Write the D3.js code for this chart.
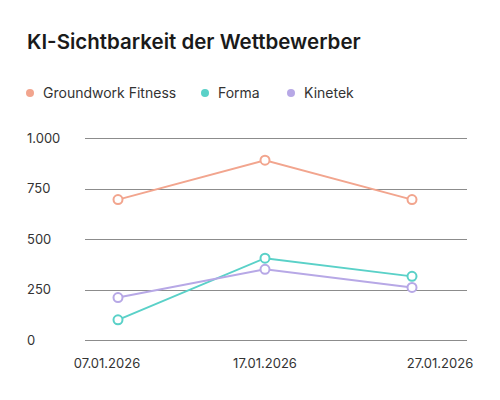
<!DOCTYPE html>
<html>
<head>
<meta charset="utf-8">
<script src="https://cdn.jsdelivr.net/npm/d3@7"></script>
<style>
  body { margin: 0; background: #fff; }
  text { font-family: "Inter", "Lato", sans-serif; }
</style>
</head>
<body>
<script>
// chart data
var dates = ["2026-01-07", "2026-01-17", "2026-01-27"];
var seriesNames = ["Groundwork Fitness", "Forma", "Kinetek"];
var groundwork = [695, 890, 695];
var forma = [100, 405, 315];
var kinetek = [210, 350, 260];
var yTicks = [0, 250, 500, 750, 1000];

var colors = ["#f2a58e", "#5ad1c8", "#b7a8e6"];
var parse = d3.timeParse("%Y-%m-%d");
var fmtDate = d3.timeFormat("%d.%m.%Y");
var de = d3.formatLocale({decimal: ",", thousands: ".", grouping: [3], currency: ["", " €"]});
var fmtNum = de.format(",");

var series = [groundwork, forma, kinetek].map(function(vals, i) {
    return {
        name: seriesNames[i],
        color: colors[i],
        values: vals.map(function(v, j) { return {date: parse(dates[j]), value: v}; })
    };
});

var width = 500, height = 400;
var svg = d3.select("body").append("svg")
    .attr("width", width)
    .attr("height", height);

svg.append("text")
    .attr("x", 27).attr("y", 49)
    .attr("font-size", 20.5).attr("font-weight", 600)
    .attr("fill", "#1a1a1a")
    .text("KI-Sichtbarkeit der Wettbewerber");

// legend
var legendX = [30, 205, 291];
var legend = svg.append("g").selectAll("g")
    .data(series).enter().append("g")
    .attr("transform", function(d, i) { return "translate(" + legendX[i] + ",93)"; });
legend.append("circle").attr("r", 4).attr("fill", function(d) { return d.color; });
legend.append("text")
    .attr("x", 13).attr("dy", "0.35em")
    .attr("font-size", 14).attr("fill", "#333")
    .text(function(d) { return d.name; });

var x = d3.scaleTime()
    .domain([parse(dates[0]), parse(dates[dates.length - 1])])
    .range([118, 412]);
var y = d3.scaleLinear().domain([0, 1000]).range([340, 138]);

// grid + y labels
svg.append("g").selectAll("line")
    .data(yTicks).enter().append("line")
    .attr("x1", 85).attr("x2", 467)
    .attr("y1", function(d) { return Math.round(y(d)) + 0.5; })
    .attr("y2", function(d) { return Math.round(y(d)) + 0.5; })
    .attr("stroke", "#8c8c8c").attr("stroke-width", 1);

svg.append("g").selectAll("text")
    .data(yTicks).enter().append("text")
    .attr("x", 27).attr("y", function(d) { return y(d); })
    .attr("dy", "0.35em")
    .attr("font-size", 13).attr("fill", "#333")
    .text(function(d) { return fmtNum(d); });

// x labels (nudged like the original)
var xShift = [-11, 0, 28];
svg.append("g").selectAll("text")
    .data(dates).enter().append("text")
    .attr("x", function(d, i) { return x(parse(d)) + xShift[i]; })
    .attr("y", 368)
    .attr("text-anchor", "middle")
    .attr("font-size", 13).attr("fill", "#333")
    .text(function(d) { return fmtDate(parse(d)); });

var line = d3.line()
    .x(function(d) { return x(d.date); })
    .y(function(d) { return y(d.value); });

var g = svg.append("g").selectAll("g")
    .data(series).enter().append("g");

g.append("path")
    .attr("d", function(d) { return line(d.values); })
    .attr("fill", "none")
    .attr("stroke", function(d) { return d.color; })
    .attr("stroke-width", 2);

g.selectAll("circle")
    .data(function(d) { return d.values.map(function(v) { return {v: v, color: d.color}; }); })
    .enter().append("circle")
    .attr("cx", function(d) { return x(d.v.date); })
    .attr("cy", function(d) { return y(d.v.value); })
    .attr("r", 4.5)
    .attr("fill", "#fff")
    .attr("stroke", function(d) { return d.color; })
    .attr("stroke-width", 2);
</script>
</body>
</html>
